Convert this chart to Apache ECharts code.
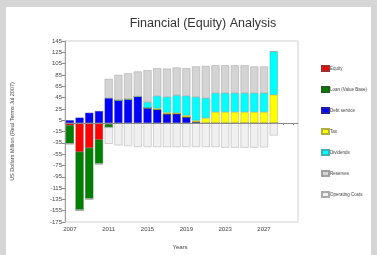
<!DOCTYPE html>
<html>
<head>
<meta charset="utf-8">
<script src="https://cdn.jsdelivr.net/npm/echarts@6/dist/echarts.min.js"></script>
<style>
  html, body { margin: 0; padding: 0; background: #d6d6d6; }
  #panel { position: absolute; left: 6px; top: 7px; width: 365px; height: 248px; background: #fff; }
  #chart { position: absolute; left: 0; top: 0; width: 377px; height: 255px; }
</style>
</head>
<body>
<div id="panel"></div>
<div id="chart"></div>
<script>
// years on the axis (2029/2030 have no data)
var years = ['2007','2008','2009','2010','2011','2012','2013','2014','2015','2016','2017','2018',
             '2019','2020','2021','2022','2023','2024','2025','2026','2027','2028','2029','2030'];

var equity    = [-4, -51, -44, -29.5, -2.4, 0, 0, 0, 0, 0, 0, 0, 0, 0, 0, 0, 0, 0, 0, 0, 0, 0];
var loan      = [-32.5, -103, -90, -42.5, -5.3, 0, 0, 0, 0, 0, 0, 0, 0, 0, 0, 0, 0, 0, 0, 0, 0, 0];
var debtServ  = [4.7, 9.4, 18, 21, 44, 40.5, 42.2, 46.8, 26.8, 23.8, 16.2, 16.3, 10.6, 2, 0, 0, 0, 0, 0, 0, 0, 0];
var tax       = [0, 0, 0, 0, 0, 0, 0, 0, 0, 2, 2.5, 1.7, 2.9, 2.5, 8.8, 19.5, 19.5, 19.5, 19.5, 19.5, 19.5, 50];
var dividends = [0, 0, 0, 0, 0, 0, 0, 0, 10, 22, 27.5, 31, 34.5, 41.5, 35.2, 33.5, 33.5, 33.5, 33.5, 33.5, 33.5, 76.5];
var reserves  = [0, 0, 0, 0, 34, 44.5, 45.5, 44.3, 56.5, 49, 50, 49, 49, 54, 56.8, 49, 49, 49, 49, 47, 47, 0];
var operating = [0, 0, 0, 0, -29, -39.5, -40.7, -42.4, -42.4, -42.4, -42.4, -42.4, -42.4, -42.4, -42.4, -42.4, -43.6, -43.6, -43.6, -43.6, -43, -22];

var yTicksMin = -175, yTicksMax = 145, yStep = 20;

var chart = echarts.init(document.getElementById('chart'));

function bar(name, data, color, border) {
  return {
    name: name,
    type: 'bar',
    stack: 'all',
    barWidth: 8,
    data: data,
    itemStyle: { color: color, borderColor: border, borderWidth: 0.5 }
  };
}

var series = [
  bar('Debt service', debtServ, '#0000ff', '#2020a0'),
  bar('Equity', equity, '#ff0000', '#a03030'),
  bar('Loan (Value Base)', loan, '#008000', '#206020'),
  bar('Tax', tax, '#ffff00', '#b0b040'),
  bar('Dividends', dividends, '#00ffff', '#40b0b0'),
  bar('Reserves', reserves, '#d4d4d4', '#a0a0a0'),
  bar('Operating Costs', operating, '#f0f0f0', '#ababab')
];
series[0].markLine = {
  silent: true,
  symbol: 'none',
  label: { show: false },
  lineStyle: { color: '#8c8c8c', type: 'solid', width: 1 },
  data: [{ yAxis: 0 }]
};

var option = {
  animation: false,
  title: {
    text: 'Financial (Equity) Analysis',
    left: 198,
    textAlign: 'center',
    top: 12,
    textStyle: { fontFamily: 'Liberation Sans', fontSize: 12.5, fontWeight: 'normal', color: '#333' }
  },
  legend: {
    orient: 'vertical',
    left: 316,
    top: 60,
    itemWidth: 7,
    itemHeight: 5,
    itemGap: 14,
    icon: 'rect',
    data: ['Equity', 'Loan (Value Base)', 'Debt service', 'Tax', 'Dividends', 'Reserves', 'Operating Costs'],
    textStyle: { fontFamily: 'Liberation Sans', fontSize: 4.5, color: '#444', padding: [0, 0, 0, -4] }
  },
  grid: {
    left: 65, top: 41, right: 79, bottom: 32,
    show: true, borderColor: '#cfcfcf', borderWidth: 1, backgroundColor: 'transparent'
  },
  xAxis: {
    type: 'category',
    data: years,
    name: 'Years',
    nameLocation: 'middle',
    nameGap: 22,
    nameTextStyle: { fontFamily: 'Liberation Sans', fontSize: 6, color: '#444', padding: [0, 0, 0, -3] },
    axisLine: { lineStyle: { color: '#a0a0a0' } },
    axisTick: { show: true, interval: 0, alignWithLabel: true, length: 2, lineStyle: { color: '#888' } },
    axisLabel: { interval: 3, fontFamily: 'Liberation Sans', fontSize: 6, color: '#444', margin: 4 },
    splitLine: { show: false }
  },
  yAxis: {
    type: 'value',
    min: yTicksMin,
    max: yTicksMax,
    interval: yStep,
    name: 'US Dollars Million (Real Terms Jul 2007)',
    nameLocation: 'middle',
    nameGap: 50,
    nameTextStyle: { fontFamily: 'Liberation Sans', fontSize: 5.5, color: '#444' },
    axisLine: { show: true, lineStyle: { color: '#a0a0a0' } },
    axisTick: { show: true, length: 3, lineStyle: { color: '#888' } },
    axisLabel: { fontFamily: 'Liberation Sans', fontSize: 6, color: '#444', margin: 3 },
    splitLine: { show: false }
  },
  series: series
};

chart.setOption(option);
</script>
</body>
</html>
